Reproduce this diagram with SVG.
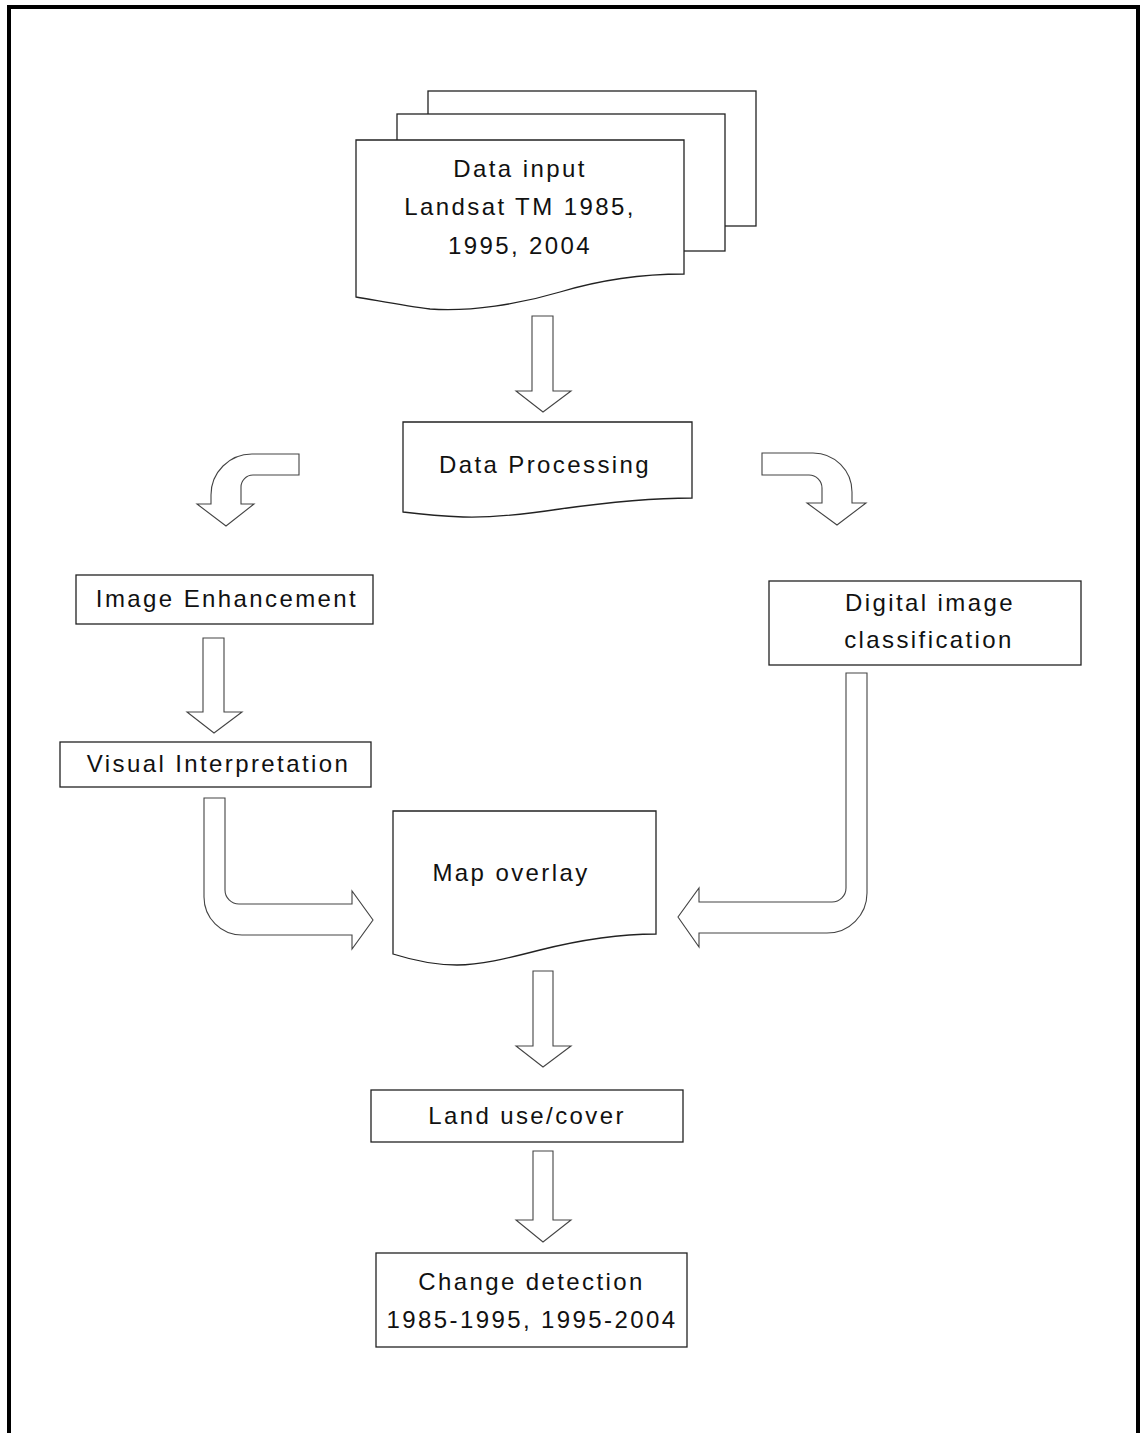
<svg xmlns="http://www.w3.org/2000/svg" width="1140" height="1433" viewBox="0 0 1140 1433">
<style>
  .box { fill: #fff; stroke: #222; stroke-width: 1.3; }
  .arr { fill: #fff; stroke: #444; stroke-width: 1.1; stroke-linejoin: miter; }
  .t { font-family: "Liberation Sans", Arial, sans-serif; font-size: 24px; letter-spacing: 2.4px; fill: #111; text-anchor: middle; }
</style>
<rect width="1140" height="1433" fill="#fff"/>
<path d="M9,1445 V7 H1138 V1445" fill="none" stroke="#000" stroke-width="4"/>

<g id="data-input">
  <rect class="box" x="428" y="91" width="328" height="135"/>
  <rect class="box" x="397" y="114" width="328" height="137"/>
  <path class="box" d="M356,140 H684 V274 C640,274 600,280 560,292 C520,304 470,312 430,309 C405,306 380,301 356,297 Z"/>
  <text class="t" x="520" y="177">Data input</text>
  <text class="t" x="520" y="215">Landsat TM 1985,</text>
  <text class="t" x="520" y="254">1995, 2004</text>
</g>

<g id="data-processing">
  <path class="box" d="M403,422 H692 V498 C650,498 610,502 560,509 C520,515 490,518 463,517 C440,516 420,514 403,512 Z"/>
  <text class="t" x="545" y="473">Data Processing</text>
</g>

<g id="image-enhancement">
  <rect class="box" x="76" y="575" width="297" height="49"/>
  <text class="t" x="227" y="607">Image Enhancement</text>
</g>

<g id="visual-interpretation">
  <rect class="box" x="60" y="742" width="311" height="45"/>
  <text class="t" x="218.5" y="772">Visual Interpretation</text>
</g>

<g id="digital-classification">
  <rect class="box" x="769" y="581" width="312" height="84"/>
  <text class="t" x="930" y="611">Digital image</text>
  <text class="t" x="929" y="648">classification</text>
</g>

<g id="map-overlay">
  <path class="box" d="M393,811 H656 V934 C615,934 580,940 540,950 C505,959 480,965 457,965 C435,965 412,960 393,954 Z"/>
  <text class="t" x="511" y="881">Map overlay</text>
</g>

<g id="land-use">
  <rect class="box" x="371" y="1090" width="312" height="52"/>
  <text class="t" x="527" y="1124">Land use/cover</text>
</g>

<g id="change-detection">
  <rect class="box" x="376" y="1253" width="311" height="94"/>
  <text class="t" x="531.5" y="1290">Change detection</text>
  <text class="t" x="532" y="1328">1985-1995, 1995-2004</text>
</g>

<g id="connectors">
  <path class="arr" d="M532,316 H553 V391 H571 L543,412 L516,391 H532 Z"/>
  <path class="arr" d="M299,454 H252 A41,41 0 0 0 211,495 V504 H197 L226,526 L254,504 H241 V487 A12,12 0 0 1 253,475 H299 Z"/>
  <path class="arr" d="M762,453 H813 A39,39 0 0 1 852,492 V503 H866 L837,525 L807,503 H822 V488 A13,13 0 0 0 809,475 H762 Z"/>
  <path class="arr" d="M203,638 H224 V712 H242 L214,733 L187,712 H203 Z"/>
  <path class="arr" d="M204,798 H225 V890 A14,14 0 0 0 239,904 H352 V891 L373,920 L352,949 V935 H242 A38,38 0 0 1 204,897 Z"/>
  <path class="arr" d="M846,673 H867 V893 A40,40 0 0 1 827,933 H699 V947 L678,917 L699,888 V902 H832 A14,14 0 0 0 846,888 Z"/>
  <path class="arr" d="M533,971 H553 V1046 H571 L543,1067 L516,1046 H533 Z"/>
  <path class="arr" d="M533,1151 H553 V1220 H571 L543,1242 L516,1220 H533 Z"/>
</g>
</svg>
